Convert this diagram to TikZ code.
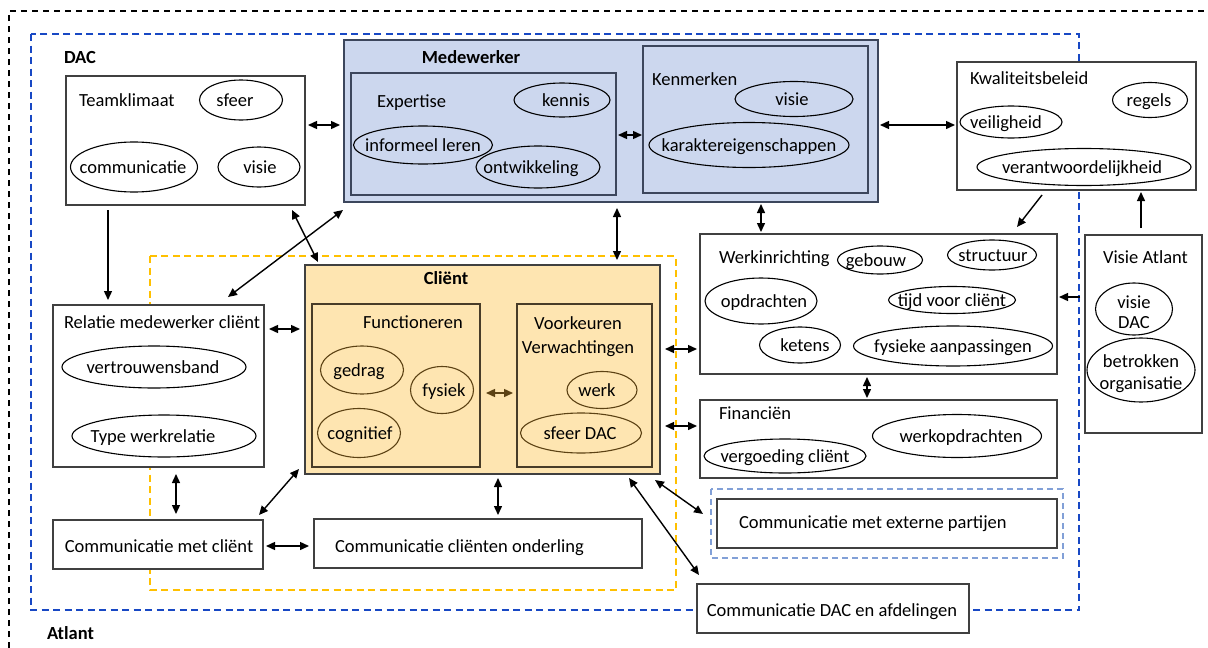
\documentclass[tikz,border=0pt]{standalone}
\usepackage{fontspec}
\setmainfont{Carlito}
\usetikzlibrary{arrows.meta,shapes.geometric,calc}
\definecolor{dacblue}{RGB}{24,72,196}
\definecolor{orangec}{RGB}{255,192,0}
\definecolor{extblue}{RGB}{130,160,215}
\definecolor{medfill}{RGB}{204,215,238}
\definecolor{clfill}{RGB}{254,229,177}
\definecolor{boxc}{RGB}{64,64,64}
\definecolor{medin}{RGB}{60,70,92}
\definecolor{clin}{RGB}{72,60,40}
\definecolor{brownc}{RGB}{92,66,20}
\newcommand{\elln}[7][ell]{\node[#1, minimum width=#4pt, minimum height=#5pt] (#2) at (#3) {};
  \node[etxt] (#2t) at ([xshift=#6pt]#2.center) {#7};}
\begin{document}
\begin{tikzpicture}[x=1pt,y=-1pt,
 every node/.style={inner sep=0pt, outer sep=0pt},
 font=\fontsize{18.5}{22}\selectfont,
 box/.style={draw=boxc, line width=1.2pt, fill=white, anchor=north west, rectangle},
 ell/.style={draw=black, line width=1.1pt, ellipse},
 bell/.style={draw=brownc, line width=1.1pt, ellipse},
 lbl/.style={anchor=west, text height=16.5pt, text depth=4pt},
 etxt/.style={text height=16.5pt, text depth=4pt},
 ttl/.style={font=\fontsize{18.5}{22}\selectfont\bfseries, text height=16.5pt, text depth=4pt},
 arrt/.tip={Triangle[length=9pt,width=8pt]},
 dbl/.style={arrt-arrt, line width=1.4pt},
 sgl/.style={-arrt, line width=1.4pt},
]
\useasboundingbox (0,0) rectangle (1208,648);
% frames
\draw[line width=1.1pt, dash pattern=on 6pt off 5pt] (9,648) -- (9,11) -- (1208,11);
\draw[dacblue, line width=1.8pt, dash pattern=on 7pt off 4.5pt] (31,34) rectangle (1079,610);
\draw[orangec, line width=1.6pt, dash pattern=on 7pt off 4.5pt] (150,256) rectangle (676,590);
\draw[extblue, line width=1.5pt, dash pattern=on 6pt off 4pt] (711,489) rectangle (1063,558);
\node[ttl, anchor=west] (daclbl) at (64,57) {DAC};
\node[ttl, anchor=west] (atlbl) at (47,633) {Atlant};

% Teamklimaat
\node[box, minimum width=239pt, minimum height=129pt] (team) at (66,76) {};
\node[lbl] (teaml) at (79,100) {Teamklimaat};
\elln{tsfeer}{241,100}{83}{40}{-6}{sfeer}
\elln{tcomm}{134,167}{127}{50}{-1}{communicatie}
\elln{tvisie}{259,167}{82}{40}{1}{visie}

% Medewerker
\node[box, fill=medfill, draw=medin, minimum width=534pt, minimum height=162pt] (med) at (344,40) {};
\node[ttl] (medl) at (471,57) {Medewerker};
\node[box, fill=medfill, draw=medin, minimum width=265pt, minimum height=122pt] (exp) at (351,73) {};
\node[lbl] (expl) at (377,101) {Expertise};
\elln{kennis}{562,100}{96}{34}{4}{kennis}
\elln{infl}{423,145}{139}{38}{0}{informeel leren}
\elln{ontw}{538,167}{124}{42}{-7}{ontwikkeling}
\node[box, fill=medfill, draw=medin, minimum width=225pt, minimum height=147pt] (ken) at (643,46) {};
\node[lbl] (kenl) at (652,79) {Kenmerken};
\elln{kvisie}{794,99}{118}{35}{-2}{visie}
\elln{kar}{749,145}{200}{45}{0}{karaktereigenschappen}

% Kwaliteitsbeleid
\node[box, minimum width=239pt, minimum height=128pt] (kwal) at (957,62) {};
\node[lbl] (kwall) at (970,78) {Kwaliteitsbeleid};
\elln{regels}{1150,100}{75}{35}{-1}{regels}
\elln{veil}{1011,122}{102}{32}{-5}{veiligheid}
\elln{verant}{1084,167}{214}{37}{-2}{verantwoordelijkheid}

% Werkinrichting
\node[box, minimum width=357pt, minimum height=140pt] (werk) at (700,234) {};
\node[lbl] (werkl) at (719,257) {Werkinrichting};
\elln{gebouw}{880,260}{85}{28}{-4}{gebouw}
\elln{struct}{992,255}{89}{30}{1}{structuur}
\elln{opdr}{761,301}{112}{46}{3}{opdrachten}
\elln{tijd}{952,300}{127}{27}{0}{tijd voor cliënt}
\elln{ketens}{800,345}{81}{36}{5}{ketens}
\elln{fysa}{953,346}{199}{40}{0}{fysieke aanpassingen}

% Financien
\node[box, minimum width=357pt, minimum height=78pt] (fin) at (700,400) {};
\node[lbl] (finl) at (719,413) {Financiën};
\elln{werkop}{957,436}{169}{43}{4}{werkopdrachten}
\elln{vergo}{785,456}{162}{34}{0}{vergoeding cliënt}

% Visie Atlant
\node[box, minimum width=117pt, minimum height=198pt] (visie) at (1085,235) {};
\node[lbl] (visiel) at (1103,257) {Visie Atlant};
\node[ell, minimum width=77pt, minimum height=52pt] (vdac) at (1134,309) {};
\node[align=center, font=\fontsize{18.5}{20}\selectfont] (vdact) at (1134,312) {visie\\DAC};
\node[ell, minimum width=108pt, minimum height=64pt] (betr) at (1141,370) {};
\node[align=center, font=\fontsize{18.5}{22}\selectfont] (betrt) at (1141,374) {betrokken\\organisatie};

% Client
\node[box, fill=clfill, draw=boxc, minimum width=355pt, minimum height=209pt] (client) at (305,265) {};
\node[ttl] (clientl) at (446,278) {Cliënt};
\node[box, fill=clfill, draw=clin, minimum width=168pt, minimum height=163pt] (func) at (312,304) {};
\node[lbl] (funcl) at (363,322) {Functioneren};
\elln[bell]{gedrag}{362,370}{83}{48}{-3}{gedrag}
\elln[bell]{fysiek}{442,390}{63}{47}{2}{fysiek}
\elln[bell]{cogn}{359,433}{83}{49}{1}{cognitief}
\node[box, fill=clfill, draw=clin, minimum width=135pt, minimum height=163pt] (voork) at (517,304) {};
\node[align=center, font=\fontsize{18.5}{24}\selectfont] (voorkl) at (578,337) {Voorkeuren\\Verwachtingen};
\elln[bell]{werkv}{602,390}{70}{37}{-5}{werk}
\elln[bell]{sfdac}{581,433}{121}{40}{-1}{sfeer DAC}

% Relatie
\node[box, minimum width=211pt, minimum height=162pt] (rel) at (53,305) {};
\node[lbl] (rell) at (64,322) {Relatie medewerker cliënt};
\elln{vertr}{154,367}{184}{42}{-1}{vertrouwensband}
\elln{typew}{164,436}{184}{42}{-11}{Type werkrelatie}

% Communicatie boxes
\node[box, minimum width=210pt, minimum height=49pt] (cmc) at (53,520) {};
\node[etxt] (cmct) at (159,546) {Communicatie met cliënt};
\node[box, minimum width=328pt, minimum height=49pt] (cco) at (314,519) {};
\node[lbl] (ccot) at (335,546) {Communicatie cliënten onderling};
\node[box, minimum width=340pt, minimum height=49pt] (cext) at (717,499) {};
\node[lbl] (cextt) at (739,522) {Communicatie met externe partijen};
\node[box, minimum width=272pt, minimum height=49pt] (cdac) at (697,584) {};
\node[etxt] (cdact) at (832,610) {Communicatie DAC en afdelingen};

% connectors
\draw[dbl] ([shift={(3,-15.5)}]team.east) -- ([shift={(-4,4)}]med.west);
\draw[dbl] ([shift={(2,4)}]med.east) -- ([shift={(-2,-1)}]kwal.west);
\draw[dbl] ([shift={(2,1)}]exp.east) -- ([shift={(-1,1)}]exp.east -| ken.west);
\draw[sgl] ([shift={(-77.5,5)}]team.south) -- ([shift={(-50.5,-5)}]rel.north);
\draw[dbl] ([shift={(-13,5)}]team.south east) -- ([shift={(13,-3)}]client.north west);
\draw[dbl] ([shift={(-1,8)}]med.south west) -- ([shift={(-36,-8)}]rel.north east);
\draw[dbl] ([shift={(6,6)}]med.south) -- ([shift={(134.5,-5)}]client.north);
\draw[dbl] ([shift={(150,2)}]med.south) -- ([shift={(-117.5,-2)}]werk.north);
\draw[sgl] ([shift={(-34.5,5)}]kwal.south) -- ([shift={(-40,-7)}]werk.north east);
\draw[sgl] ([shift={(-2.5,-7)}]visie.north) -- ([shift={(64.5,2)}]kwal.south);
\draw[sgl] ([shift={(-5,-37)}]visie.west) -- ([shift={(2,-7)}]werk.east);
\draw[dbl] ([shift={(-11.5,3)}]werk.south) -- ([shift={(-11.5,-2)}]fin.north);
\draw[dbl] ([shift={(5,-20.5)}]client.east) -- ([shift={(-3,45)}]werk.west);
\draw[dbl] ([shift={(5,56.5)}]client.east) -- ([shift={(-3,-13)}]fin.west);
\draw[dbl] ([shift={(5,-57)}]rel.east) -- ([shift={(-5,-40.5)}]client.west);
\draw[dbl] ([shift={(17.5,7)}]rel.south) -- ([shift={(18,-6)}]cmc.north);
\draw[dbl] ([shift={(-6,-5)}]client.south west) -- ([shift={(-4,-5)}]cmc.north east);
\draw[dbl] ([shift={(15.5,4)}]client.south) -- ([shift={(20,-4)}]cco.north);
\draw[dbl] ([shift={(3,1.5)}]cmc.east) -- ([shift={(-5,2.5)}]cco.west);
\draw[dbl] ([shift={(-31,4)}]client.south east) -- ([shift={(2,-9)}]cdac.north west);
\draw[dbl] ([shift={(-5,6)}]client.south east) -- ([shift={(-14,-9.5)}]cext.west);
\draw[dbl, brownc] ([shift={(6,7.5)}]func.east) -- ([shift={(-4,7.5)}]func.east -| voork.west);
\end{tikzpicture}
\end{document}
